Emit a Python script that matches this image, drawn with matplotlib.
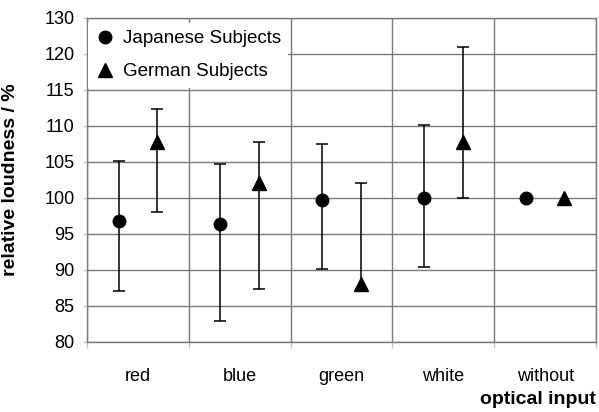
import numpy as np
import matplotlib
matplotlib.use("Agg")
import matplotlib.pyplot as plt
from matplotlib.lines import Line2D

plt.rcParams['font.family'] = ['Liberation Sans', 'DejaVu Sans']

categories = ["red", "blue", "green", "white", "without"]

# Japanese subjects: mean, lower and upper end of the spread (nan = not shown)
jp_mean = [96.8, 96.3, 99.7, 100.0, 100.0]
jp_low = [87.1, 82.9, 90.1, 90.4, np.nan]
jp_high = [105.1, 104.7, 107.5, 110.1, np.nan]

# German subjects
de_mean = [107.8, 102.1, 88.0, 107.8, 100.0]
de_low = [98.0, 87.3, np.nan, 99.9, np.nan]
de_high = [112.3, 107.7, 102.0, 120.9, np.nan]

y_ticks = [80, 85, 90, 95, 100, 105, 110, 115, 120, 125]
y_tick_labels = ["80", "85", "90", "95", "100", "105", "110", "115", "120", "130"]

W, H = 599, 412
fig = plt.figure(figsize=(W / 100, H / 100), dpi=100)
ax = fig.add_axes([87 / W, 1 - 341.7 / H, (596 - 87) / W, (341.7 - 17.7) / H])

grid_col = "#7a7a7a"
x = np.arange(len(categories))
off = 0.19


def draw_series(xpos, mean, low, high, marker, ms):
    mean = np.asarray(mean, float)
    low = np.asarray(low, float)
    high = np.asarray(high, float)
    bottom = np.where(np.isnan(low), mean, low)
    top = np.where(np.isnan(high), mean, high)
    ax.vlines(xpos, bottom, top, color="black", lw=1.1, zorder=3)
    for arr in (low, high):
        ok = ~np.isnan(arr)
        ax.plot(xpos[ok], arr[ok], ls="none", marker="_", ms=8, mew=1.1,
                color="black", zorder=3)
    ax.plot(xpos, mean, ls="none", marker=marker, ms=ms, color="black", zorder=4)


draw_series(x - off, jp_mean, jp_low, jp_high, "o", 9)
draw_series(x + off, de_mean, de_low, de_high, "^", 10)

ax.set_xlim(-0.5, len(categories) - 0.5)
ax.set_ylim(80, 125)
ax.set_yticks(y_ticks)
ax.set_yticklabels(y_tick_labels, fontsize=13)
ax.set_xticks(x)
ax.set_xticklabels(categories, fontsize=13)
ax.set_xticks(np.arange(-0.5, len(categories)), minor=True)

ax.tick_params(axis="x", which="major", length=0, pad=19)
ax.tick_params(axis="x", which="minor", length=4, color="#c8c8c8", width=1)
ax.tick_params(axis="y", length=3, color="#c8c8c8", width=1, pad=6)

ax.grid(True, axis="y", which="major", color=grid_col, lw=1, zorder=1)
ax.grid(True, axis="x", which="minor", color=grid_col, lw=1, zorder=1)
for s in ax.spines.values():
    s.set_color(grid_col)
    s.set_linewidth(1)

handles = [
    Line2D([], [], ls="none", marker="o", ms=9, color="black"),
    Line2D([], [], ls="none", marker="^", ms=10, color="black"),
]
leg = ax.legend(handles, ["Japanese Subjects", "German Subjects"], loc="upper left",
                bbox_to_anchor=(0.002, 1 - 5 / 324),
                fontsize=13.5, frameon=True, fancybox=False, framealpha=1,
                facecolor="white", edgecolor="none", borderaxespad=0,
                borderpad=0.4, handletextpad=0.45, handlelength=1.0,
                labelspacing=0.85)
leg.set_zorder(5)

ax.set_ylabel("relative loudness / %", fontsize=14, fontweight="bold")
ax.yaxis.set_label_coords((19 - 87) / (596 - 87), 0.5)
fig.text(596 / W, 1 - 399 / H, "optical input", fontsize=14, fontweight="bold",
         ha="right", va="center")

fig.savefig("out.png", dpi=100)
